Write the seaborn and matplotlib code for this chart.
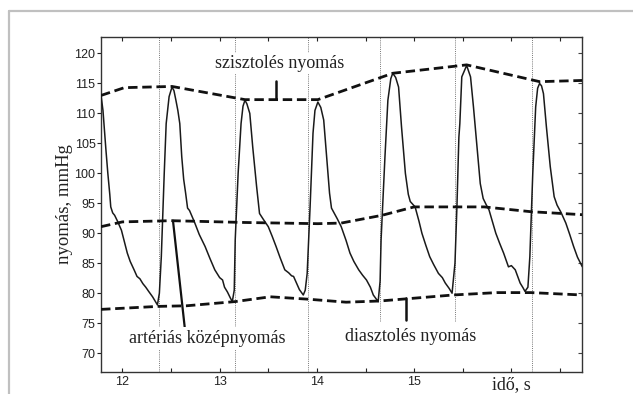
import numpy as np
import pandas as pd
import seaborn as sns
import matplotlib.pyplot as plt
from matplotlib.lines import Line2D
from matplotlib.ticker import MultipleLocator

# ---------------- data ----------------
t = [11.78, 11.80, 11.81, 11.83, 11.85, 11.87, 11.88, 11.90, 11.92, 11.95, 11.99, 12.02, 12.05, 12.08,
     12.12, 12.15, 12.18, 12.21, 12.24, 12.27, 12.31, 12.34, 12.36,
     12.38, 12.40, 12.43, 12.45, 12.48, 12.51, 12.53, 12.55, 12.57, 12.59, 12.61, 12.63, 12.65, 12.67,
     12.69, 12.74, 12.79, 12.85, 12.90, 12.95, 13.00, 13.03, 13.05, 13.08, 13.11, 13.13,
     13.15, 13.16, 13.19, 13.22, 13.24, 13.26, 13.28, 13.31, 13.34, 13.38, 13.41, 13.45, 13.50, 13.54,
     13.58, 13.62, 13.67, 13.71, 13.74, 13.76, 13.79, 13.82, 13.86, 13.88,
     13.90, 13.93, 13.96, 13.98, 14.01, 14.04, 14.07, 14.10, 14.13, 14.15, 14.17, 14.21, 14.25, 14.30,
     14.34, 14.38, 14.43, 14.47, 14.51, 14.55, 14.58, 14.63,
     14.65, 14.66, 14.70, 14.73, 14.76, 14.78, 14.81, 14.84, 14.87, 14.91, 14.94, 14.96, 15.01, 15.05,
     15.08, 15.12, 15.16, 15.20, 15.25, 15.29, 15.32, 15.36, 15.39,
     15.42, 15.44, 15.46, 15.47, 15.49, 15.54, 15.58, 15.61, 15.65, 15.68, 15.71, 15.74, 15.77, 15.84,
     15.88, 15.92, 15.97, 16.00, 16.04, 16.09, 16.12, 16.14, 16.17,
     16.19, 16.22, 16.25, 16.27, 16.29, 16.31, 16.33, 16.36, 16.40, 16.44, 16.47, 16.51, 16.56, 16.60,
     16.64, 16.68, 16.73]
pressure = [113.0, 110.5, 108.3, 104.0, 100.0, 96.5, 94.4, 93.4, 93.0, 92.0, 90.5, 88.6, 86.7, 85.3,
            83.9, 82.8, 82.4, 81.6, 81.0, 80.3, 79.4, 78.6, 78.05,
            80.0, 86.1, 100.0, 108.3, 112.8, 114.4, 113.8, 112.2, 110.5, 108.3, 102.8, 99.0, 96.7, 94.2,
            93.8, 91.9, 89.8, 87.8, 85.8, 83.9, 82.6, 82.2, 81.0, 80.2, 79.2, 78.6,
            80.5, 88.9, 100.0, 108.3, 111.2, 112.2, 111.6, 110.0, 104.4, 97.8, 93.3, 92.3, 91.1, 89.5,
            87.8, 86.0, 83.9, 83.4, 82.9, 82.8, 81.7, 80.6, 79.7, 80.5,
            83.3, 94.4, 106.7, 110.5, 111.9, 111.0, 108.9, 102.8, 96.7, 94.2, 93.6, 92.4, 91.1, 88.8,
            86.7, 85.3, 83.9, 83.0, 82.2, 81.0, 79.7, 78.6,
            82.0, 88.9, 102.8, 112.2, 115.8, 116.7, 116.0, 114.4, 107.8, 100.0, 96.5, 95.3, 94.4, 92.0,
            90.0, 88.0, 86.1, 84.8, 83.3, 82.6, 81.7, 80.8, 80.0,
            85.0, 94.4, 106.0, 108.3, 116.1, 118.0, 116.1, 111.1, 103.9, 98.3, 95.8, 94.8, 93.9, 90.0,
            88.3, 86.7, 84.4, 84.6, 83.9, 81.7, 80.9, 80.3, 81.0,
            86.1, 100.0, 111.1, 114.2, 115.0, 114.6, 113.3, 107.8, 101.1, 96.1, 94.7, 93.5, 91.7, 89.8,
            87.8, 86.0, 84.4]

sys_t = [11.78, 12.02, 12.51, 13.26, 14.01, 14.78, 15.54, 16.29, 16.73]
sys_p = [113.0, 114.3, 114.5, 112.3, 112.3, 116.7, 118.1, 115.3, 115.5]

mean_t = [11.78, 12.00, 12.50, 13.26, 14.01, 14.25, 14.67, 15.00, 15.72, 16.20, 16.73]
mean_p = [91.1, 91.9, 92.1, 91.8, 91.6, 91.7, 93.0, 94.4, 94.4, 93.6, 93.1]

dia_t = [11.78, 12.37, 12.66, 13.16, 13.52, 13.91, 14.30, 14.65, 15.40, 15.85, 16.20, 16.73]
dia_p = [77.3, 77.8, 77.9, 78.6, 79.4, 79.0, 78.5, 78.7, 79.7, 80.1, 80.1, 79.7]

beat_marks = [12.38, 13.16, 13.91, 14.65, 15.42, 16.21]
beat_bottom = [66.9, 66.9, 66.9, 75.3, 75.3, 66.9]

xticks = [12, 13, 14, 15, 16]
xticklabels = ['12', '13', '14', '15', 'idő, s']
yticks = [70, 75, 80, 85, 90, 95, 100, 105, 110, 115, 120]

labels = {
    'sys': 'szisztolés nyomás',
    'mean': 'artériás középnyomás',
    'dia': 'diasztolés nyomás',
}

# ---------------- figure ----------------
sns.set_style("white")
plt.rcParams['font.family'] = ['Liberation Sans', 'DejaVu Sans']
SERIF = ['Liberation Serif', 'DejaVu Serif']

fig = plt.figure(figsize=(6.33, 3.94), dpi=100)
ax = fig.add_axes([0.1596, 0.0566, 0.7604, 0.8487])

# beat markers (thin dotted verticals)
for x0, yb in zip(beat_marks, beat_bottom):
    ax.vlines(x0, yb, 122.7, colors='#777777', linestyles=(0, (1, 1.2)), linewidth=0.7, zorder=1)

wave = pd.DataFrame({'t': t, 'p': pressure})
sns.lineplot(data=wave, x='t', y='p', ax=ax, color='#1a1a1a', linewidth=1.1,
             estimator=None, sort=False, zorder=3)

dash = (0, (3.4, 1.7))
for xs, ys in [(sys_t, sys_p), (mean_t, mean_p), (dia_t, dia_p)]:
    env = pd.DataFrame({'t': xs, 'p': ys})
    sns.lineplot(data=env, x='t', y='p', ax=ax, color='#111111', linewidth=2.0,
                 estimator=None, sort=False, zorder=4, linestyle=dash)

# pointer lines
ax.plot([13.58, 13.58], [115.4, 112.4], color='#111111', linewidth=1.8, zorder=5)
ax.plot([12.52, 12.64], [92.1, 74.4], color='#111111', linewidth=1.6, zorder=5)
ax.plot([14.92, 14.92], [79.2, 75.5], color='#111111', linewidth=1.8, zorder=5)

# annotations
box = dict(facecolor='white', edgecolor='none', pad=1.5)
ax.text(13.62, 118.3, labels['sys'], family=SERIF, fontsize=13, ha='center', va='center',
        color='#222222', bbox=box, zorder=6)
ax.text(12.87, 72.5, labels['mean'], family=SERIF, fontsize=13, ha='center', va='center',
        color='#222222', bbox=box, zorder=6)
ax.text(14.96, 72.8, labels['dia'], family=SERIF, fontsize=13, ha='center', va='center',
        color='#222222', bbox=box, zorder=6)

ax.set_xlim(11.78, 16.73)
ax.set_ylim(66.9, 122.7)
ax.set_xticks(xticks)
ax.set_xticklabels(xticklabels)
ax.xaxis.set_minor_locator(MultipleLocator(0.5))
ax.set_yticks(yticks)
ax.set_xlabel('')
ax.set_ylabel('nyomás, mmHg', family=SERIF, fontsize=13.5, color='#222222', labelpad=1)

ax.tick_params(axis='x', which='both', direction='in', top=True, bottom=True,
               length=3, width=0.8, labelsize=9, pad=3, colors='#222222')
ax.tick_params(axis='y', which='both', direction='out', left=True, length=3, width=0.8,
               labelsize=9, pad=1, colors='#222222')
sec = ax.secondary_yaxis('right')
sec.set_yticks(yticks)
sec.tick_params(direction='in', length=3, width=0.8, labelright=False, colors='#444444')
sec.spines['right'].set_visible(False)

lab = ax.get_xticklabels()[-1]
lab.set_fontfamily(SERIF)
lab.set_fontsize(13)

for s in ax.spines.values():
    s.set_visible(True)
    s.set_color('#333333')
    s.set_linewidth(1.0)

# grey frame of the screenshot
fig.add_artist(Line2D([9 / 633, 1.0], [1 - 11 / 394, 1 - 11 / 394], color='#c0c0c0', linewidth=1.6))
fig.add_artist(Line2D([9 / 633, 9 / 633], [0, 1 - 11 / 394], color='#c0c0c0', linewidth=1.6))

fig.savefig('out.png', dpi=100)
